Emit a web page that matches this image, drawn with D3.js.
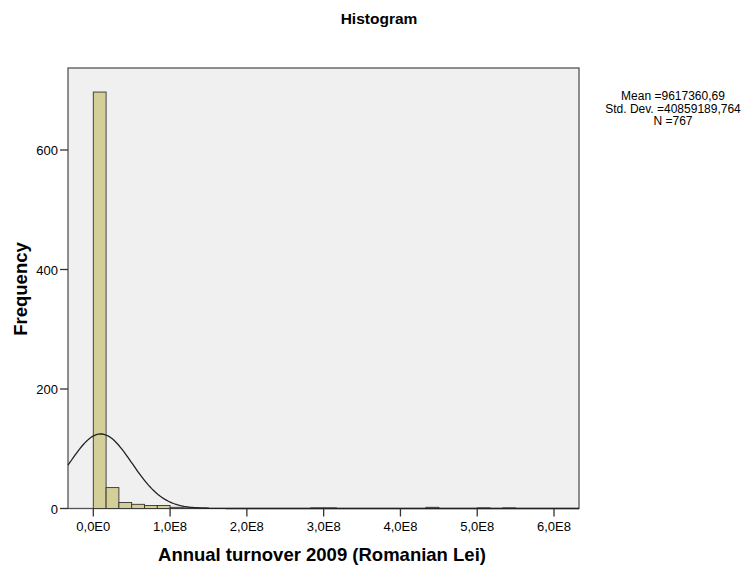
<!DOCTYPE html>
<html>
<head>
<meta charset="utf-8">
<script src="https://d3js.org/d3.v7.min.js"></script>
<style>
  body { margin: 0; background: #fff; }
  text { font-family: "Liberation Sans", Arial, sans-serif; fill: #000; }
</style>
</head>
<body>
<script>
// histogram counts, bin width = 1E8 / 6, first bin starts at 0
var binWidth = 1e8 / 6;
var counts = [697, 35, 10, 7, 5, 5, 2, 1, 1, 0, 0, 0, 0, 0, 0, 0, 0, 1, 1,
              0, 0, 0, 0, 0, 0, 0, 2, 0, 0, 0, 1, 0, 1];
var xTicks = [0, 1e8, 2e8, 3e8, 4e8, 5e8, 6e8];
var xTickLabels = ["0,0E0", "1,0E8", "2,0E8", "3,0E8", "4,0E8", "5,0E8", "6,0E8"];
var yTicks = [0, 200, 400, 600];
var stats = { mean: 9617360.69, sd: 40859189.764, n: 767 };
var statLines = ["Mean =9617360,69", "Std. Dev. =40859189,764", "N =767"];

var W = 752, H = 571;
var pL = 68, pT = 68, pR = 579, pB = 508.5;

var svg = d3.select("body").append("svg").attr("width", W).attr("height", H);

var x = d3.scaleLinear().domain([0, 6e8]).range([93.3, 554]);
var y = d3.scaleLinear().domain([0, 600]).range([pB, 150]);

// plot frame
svg.append("rect")
  .attr("x", pL).attr("y", pT)
  .attr("width", pR - pL).attr("height", pB - pT)
  .attr("fill", "#f0f0f0").attr("stroke", "#555").attr("stroke-width", 1.3);

// bars
var bins = counts.map(function(c, i) { return { x0: i * binWidth, x1: (i + 1) * binWidth, c: c }; })
  .filter(function(d) { return d.c > 0; });
svg.append("g").selectAll("rect").data(bins).enter().append("rect")
  .attr("x", function(d) { return x(d.x0); })
  .attr("y", function(d) { return y(d.c); })
  .attr("width", function(d) { return x(d.x1) - x(d.x0); })
  .attr("height", function(d) { return y(0) - y(d.c); })
  .attr("fill", "#d4cf98").attr("stroke", "#333").attr("stroke-width", 0.9);

// normal curve
var xmin = x.invert(pL), xmax = x.invert(pR);
var pts = d3.range(0, 301).map(function(i) {
  var v = xmin + (xmax - xmin) * i / 300;
  var z = (v - stats.mean) / stats.sd;
  var f = stats.n * binWidth * Math.exp(-0.5 * z * z) / (stats.sd * Math.sqrt(2 * Math.PI));
  return [v, f];
});
svg.append("path").datum(pts)
  .attr("d", d3.line().x(function(d) { return x(d[0]); }).y(function(d) { return y(d[1]); }))
  .attr("fill", "none").attr("stroke", "#222").attr("stroke-width", 1.3);

// x axis
var xg = svg.append("g").attr("transform", "translate(0," + pB + ")");
xg.selectAll("line").data(xTicks).enter().append("line")
  .attr("x1", x).attr("x2", x).attr("y1", 0).attr("y2", 8)
  .attr("stroke", "#333").attr("stroke-width", 1.3);
xg.selectAll("text").data(xTicks).enter().append("text")
  .attr("x", x).attr("y", 22).attr("text-anchor", "middle").attr("font-size", 13)
  .text(function(d, i) { return xTickLabels[i]; });

// y axis
var yg = svg.append("g").attr("transform", "translate(" + pL + ",0)");
yg.selectAll("line").data(yTicks).enter().append("line")
  .attr("x1", -8).attr("x2", 0).attr("y1", y).attr("y2", y)
  .attr("stroke", "#333").attr("stroke-width", 1.3);
yg.selectAll("text").data(yTicks).enter().append("text")
  .attr("x", -10).attr("y", function(d) { return y(d) + 5; })
  .attr("text-anchor", "end").attr("font-size", 13)
  .text(function(d) { return d; });

// titles
svg.append("text").attr("x", 379).attr("y", 24).attr("text-anchor", "middle")
  .attr("font-size", 15.5).attr("font-weight", "bold").text("Histogram");
svg.append("text").attr("x", 322).attr("y", 561).attr("text-anchor", "middle")
  .attr("font-size", 18.5).attr("font-weight", "bold").text("Annual turnover 2009 (Romanian Lei)");
svg.append("text").attr("transform", "translate(27,289) rotate(-90)").attr("text-anchor", "middle")
  .attr("font-size", 18.5).attr("font-weight", "bold").text("Frequency");

// stats box
svg.append("g").selectAll("text").data(statLines).enter().append("text")
  .attr("x", 673).attr("y", function(d, i) { return 100 + i * 12.5; })
  .attr("text-anchor", "middle").attr("font-size", 12)
  .text(function(d) { return d; });
</script>
</body>
</html>
